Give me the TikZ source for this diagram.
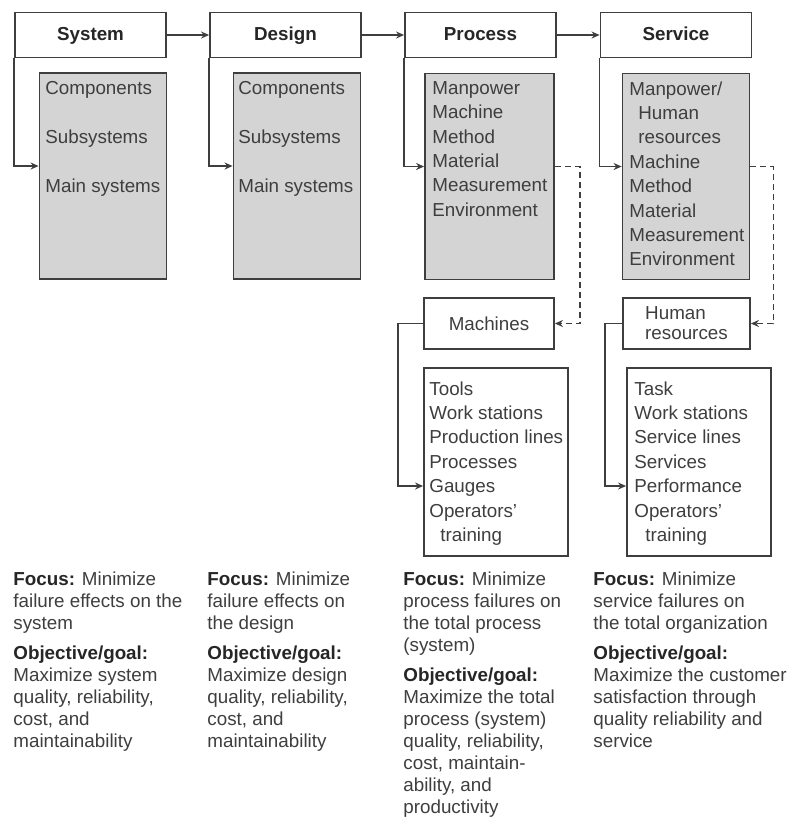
\documentclass[tikz,border=0pt]{standalone}
\usepackage{fontspec}
\setmainfont{Liberation Sans}
\usetikzlibrary{arrows.meta,positioning}
\definecolor{boxgrey}{RGB}{212,212,212}
\definecolor{ink}{RGB}{62,62,62}
\newcommand{\notehead}[1]{\textcolor{black!85}{\bfseries #1}}

\begin{document}
\begin{tikzpicture}[x=0.5pt,y=-0.5pt,
  hdr/.style={draw=ink,line width=0.9pt,minimum width=75.5pt,minimum height=22.5pt,
    text height=7pt,text depth=2pt,
    font=\fontsize{9.4}{12}\selectfont\bfseries,text=black!85},
  greybox/.style={draw=ink,line width=0.9pt,fill=boxgrey,minimum width=63.5pt,minimum height=103pt},
  whitebox/.style={draw=ink,line width=0.9pt,minimum height=25.5pt,text=ink,
    font=\fontsize{9.4}{10}\selectfont},
  listtxt/.style={anchor=north west,inner sep=0pt,align=left,text=ink,
    font=\fontsize{9.4}{12.2}\selectfont},
  notetxt/.style={anchor=north west,inner sep=0pt,align=left,text=ink,
    font=\fontsize{9.4}{11}\selectfont},
  arr/.style={draw=ink,line width=0.8pt,-{Stealth[length=4pt,width=3.5pt]}},
  dasharr/.style={arr,dash pattern=on 3pt off 2pt}]

  \useasboundingbox (0,0) rectangle (789,821);

  \node[hdr] (sys) at (90.5,35) {System};
  \node[hdr] (des) at (285.5,35) {Design};
  \node[hdr] (proc) at (480.5,35) {Process};
  \node[hdr] (serv) at (676,35) {Service};

  \node[greybox] (sysc) at (103,176) {};
  \node[greybox] (desc) at (297,176) {};
  \node[greybox,minimum width=64.5pt] (procc) at (489.5,176.5) {};
  \node[greybox] (servc) at (686,176.5) {};

  \node[listtxt] (sysl) at (45,81) {Components\\[12.2pt]Subsystems\\[12.2pt]Main systems};
  \node[listtxt] (desl) at (238,81) {Components\\[12.2pt]Subsystems\\[12.2pt]Main systems};
  \node[listtxt] (procl) at (432,81) {Manpower\\Machine\\Method\\Material\\Measurement\\Environment};
  \node[listtxt] (servl) at (629,81) {Manpower/\\\hspace*{4.5pt}Human\\\hspace*{4.5pt}resources\\Machine\\Method\\Material\\Measurement\\Environment};

  \node[whitebox,minimum width=65pt] (mach) at (489,323.5) {Machines};
  \node[whitebox,minimum width=63.5pt,align=left] (hum) at (686.5,323.5) {Human\\resources};

  \node[whitebox,minimum width=72pt,minimum height=94pt] (tools) at (496,462) {};
  \node[whitebox,minimum width=72pt,minimum height=94pt] (task) at (699,462) {};
  \node[listtxt] (toolsl) at (429,381) {Tools\\Work stations\\Production lines\\Processes\\Gauges\\Operators'\\\hspace*{5.5pt}training};
  \node[listtxt] (taskl) at (634,381) {Task\\Work stations\\Service lines\\Services\\Performance\\Operators'\\\hspace*{5.5pt}training};

  \draw[arr] (sys) -- (des);
  \draw[arr] (des) -- (proc);
  \draw[arr] (proc) -- (serv);
  \draw[arr] (sys.south west) |- ([yshift=5pt]sysc.west);
  \draw[arr] (des.south west) |- ([yshift=5pt]desc.west);
  \draw[arr] (proc.south west) |- ([yshift=5pt]procc.west);
  \draw[arr] (serv.south west) |- ([yshift=5pt]servc.west);
  \draw[dasharr] ([yshift=5pt]procc.east) -- ++(12.5pt,0) |- (mach.east);
  \draw[dasharr] ([yshift=5pt]servc.east) -- ++(11.5pt,0) |- (hum.east);
  \draw[arr] (mach.west) -- ++(-12.5pt,0) |- ([yshift=-12pt]tools.west);
  \draw[arr] (hum.west) -- ++(-8.5pt,0) |- ([yshift=-12pt]task.west);

  \node[notetxt] (sysn) at (13,571) {\notehead{Focus:} Minimize\\failure effects on the\\system\\[4pt]
    \notehead{Objective/goal:}\\Maximize system\\quality, reliability,\\cost, and\\maintainability};
  \node[notetxt] (desn) at (207,571) {\notehead{Focus:} Minimize\\failure effects on\\the design\\[4pt]
    \notehead{Objective/goal:}\\Maximize design\\quality, reliability,\\cost, and\\maintainability};
  \node[notetxt] (procn) at (403,571) {\notehead{Focus:} Minimize\\process failures on\\the total process\\(system)\\[4pt]
    \notehead{Objective/goal:}\\Maximize the total\\process (system)\\quality, reliability,\\cost, maintain-\\ability, and\\productivity};
  \node[notetxt] (servn) at (593,571) {\notehead{Focus:} Minimize\\service failures on\\the total organization\\[4pt]
    \notehead{Objective/goal:}\\Maximize the customer\\satisfaction through\\quality reliability and\\service};
\end{tikzpicture}
\end{document}
